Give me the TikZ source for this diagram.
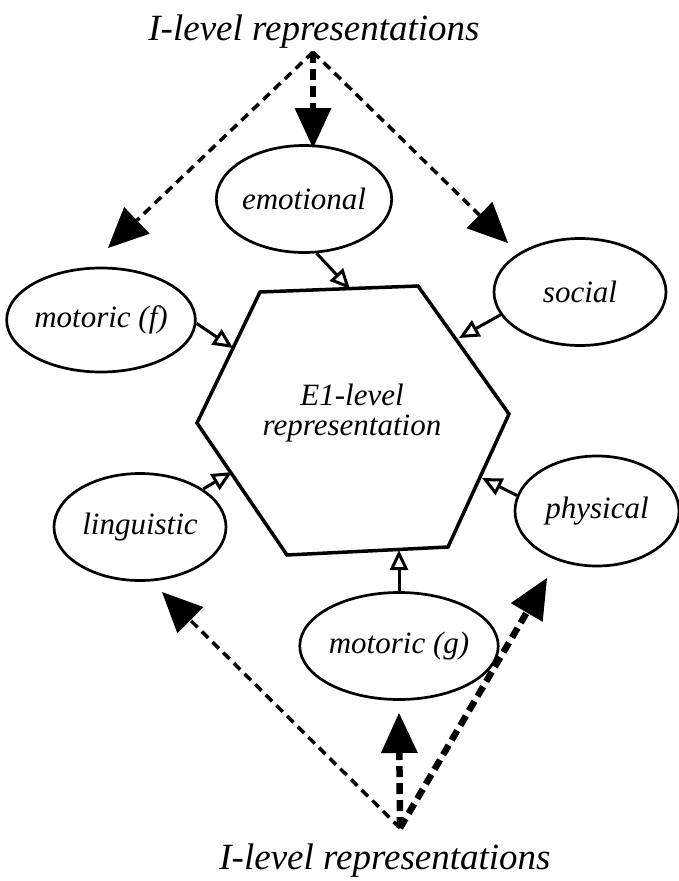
\documentclass[tikz,border=0pt]{standalone}
\usepackage{fontspec}
\setmainfont{Liberation Serif}
\usetikzlibrary{shapes.geometric,arrows.meta}

\begin{document}
\begin{tikzpicture}[x=1pt, y=-1pt,
    oval/.style={draw, ellipse, line width=2.7pt, minimum width=172pt, minimum height=107pt, inner sep=0pt, font=\fontsize{31}{30}\selectfont\itshape},
    title/.style={font=\fontsize{37}{40}\selectfont\itshape, anchor=base},
    feed/.style={line width=3pt, -{Triangle[open, length=20pt, width=18pt]}},
    thinlink/.style={line width=3.5pt, dash pattern=on 9pt off 6pt, -{Triangle[length=40pt, width=37pt, line width=0pt]}},
    thicklink/.style={line width=6.5pt, dash pattern=on 11pt off 6pt, -{Triangle[length=40pt, width=37pt, line width=0pt]}}
]
    \useasboundingbox (0,0) rectangle (679,881);
    % Centre: E1-level hexagon
    \draw[line width=3.5pt, line join=miter] (260,292) -- (418,286) -- (509,414) -- (448,547) -- (287,555) -- (197,423) -- cycle;
    \node[font=\fontsize{31}{30}\selectfont\itshape, align=center] (hex) at (352,413) {E1-level\\representation};
    \coordinate (hexT) at (350,289);
    \coordinate (hexUL) at (233,348);
    \coordinate (hexUR) at (459,338);
    \coordinate (hexLL) at (232,472);
    \coordinate (hexLR) at (482,478);
    \coordinate (hexB) at (399,550);
    % Sources round the hexagon
    \node[oval] (emo) at (304,199) {emotional};
    \node[oval, minimum height=104pt] (motf) at (101,320) {motoric (f)};
    \node[oval] (soc) at (580,292) {social};
    \node[oval] (ling) at (140,527) {linguistic};
    \node[oval, minimum width=164pt, minimum height=110pt] (phys) at (597,511) {physical};
    \node[oval] (motg) at (399,646) {motoric (g)};
    \draw[feed] (emo.-77) -- (hexT);
    \draw[feed] (motf.-2) -- (hexUL);
    \draw[feed] (soc.196) -- (hexUR);
    \draw[feed] (ling.31) -- (hexLL);
    \draw[feed] (phys.169) -- (hexLR);
    \draw[feed] (motg.north) -- (hexB);
    % Top: I-level representations
    \node[title] (itop) at (314,40) {I-level representations};
    \coordinate (topsrc) at (313,52);
    \coordinate (tipMf) at (108,248);
    \coordinate (tipEmo) at (313,148);
    \coordinate (tipSoc) at (508,243);
    \draw[thinlink] (topsrc) -- (tipMf);
    \draw[thicklink] (topsrc) -- (tipEmo);
    \draw[thinlink] (topsrc) -- (tipSoc);
    % Bottom: I-level representations
    \node[title] (ibot) at (385,869) {I-level representations};
    \coordinate (botsrc) at (400,828);
    \coordinate (tipLing) at (162,592);
    \coordinate (tipMg) at (399,713);
    \coordinate (tipPhys) at (547,578);
    \draw[thinlink] (botsrc) -- (tipLing);
    \draw[thicklink] (botsrc) -- (tipMg);
    \draw[thicklink] (botsrc) -- (tipPhys);
\end{tikzpicture}
\end{document}
